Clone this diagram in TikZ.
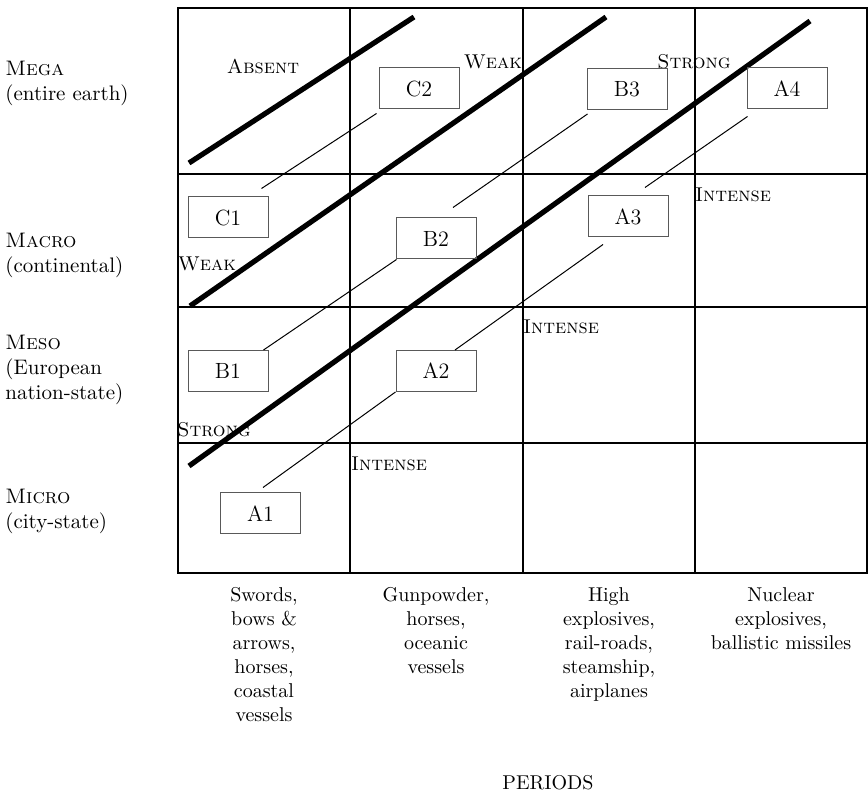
\documentclass[tikz,border=0pt]{standalone}
\begin{document}
\begin{tikzpicture}[x=0.5pt,y=-0.5pt,
  gridline/.style={line width=1pt},
  band/.style={line width=2.6pt},
  link/.style={line width=0.5pt},
  idbox/.style={draw=black!65, line width=0.5pt, minimum width=40pt,
    minimum height=20.5pt, inner sep=0pt, font=\fontsize{11}{13}\selectfont},
  zonelabel/.style={inner sep=0pt, font=\fontsize{10}{12}\selectfont\scshape},
  sidelabel/.style={anchor=north west, align=left, inner sep=0pt,
    font=\fontsize{10.5}{12.5}\selectfont},
  periodtext/.style={anchor=north, align=center, inner sep=0pt,
    font=\fontsize{10}{12}\selectfont}]
\useasboundingbox (0,0) rectangle (868,796);

% table frame and cell rules
\draw[gridline] (178,8) rectangle (867,573);
\foreach \x in {350,523,695} \draw[gridline] (\x,8) -- (\x,573);
\foreach \y in {174,307,443} \draw[gridline] (178,\y) -- (867,\y);

% zone labels
\node[zonelabel] (absent) at (263,66) {Absent};
\node[zonelabel] (weaktop) at (493,62) {Weak};
\node[zonelabel] (strongtop) at (694,62) {Strong};
\node[zonelabel] (weakleft) at (207,264) {Weak};
\node[zonelabel] (strongleft) at (214,430) {Strong};
\node[zonelabel] (intensea) at (733,195) {Intense};
\node[zonelabel] (intenseb) at (561,327) {Intense};
\node[zonelabel] (intensec) at (389,464) {Intense};

% thick boundary bands
\draw[band] (189,163) -- (414,17);
\draw[band] (190,306) -- (606,17);
\draw[band] (189,466) -- (810,21);

% system boxes
\node[idbox] (C2) at (419,88.5) {C2};
\node[idbox] (C1) at (228,217.5) {C1};
\node[idbox] (B3) at (627,89) {B3};
\node[idbox] (B2) at (436,238.5) {B2};
\node[idbox] (B1) at (228,371) {B1};
\node[idbox] (A4) at (787,88.5) {A4};
\node[idbox] (A3) at (628,216.5) {A3};
\node[idbox] (A2) at (436,371) {A2};
\node[idbox] (A1) at (260.5,513.5) {A1};

% succession links
\draw[link] ([shift={(-2,4)}]C2.south west) -- ([shift={(-7,-8)}]C1.north east);
\draw[link] ([shift={(1,4)}]B3.south west) -- ([shift={(17,-10)}]B2.north);
\draw[link] ([shift={(1,0)}]B2.south west) -- ([shift={(-5,0)}]B1.north east);
\draw[link] ([shift={(1,7)}]A4.south west) -- ([shift={(17,-8)}]A3.north);
\draw[link] ([shift={(-25,7)}]A3.south) -- ([shift={(19,0)}]A2.north);
\draw[link] (A2.south west) -- ([shift={(2.5,-5)}]A1.north);

% scale labels
\node[sidelabel] (mega) at (5,61) {\textsc{Mega}\\(entire earth)};
\node[sidelabel] (macro) at (5,233) {\textsc{Macro}\\(continental)};
\node[sidelabel] (meso) at (5,335) {\textsc{Meso}\\(European\\nation-state)};
\node[sidelabel] (micro) at (5,489) {\textsc{Micro}\\(city-state)};

% period technologies
\node[periodtext] (pa) at (264,587) {Swords,\\bows \&\\arrows,\\horses,\\coastal\\vessels};
\node[periodtext] (pb) at (436,587) {Gunpowder,\\horses,\\oceanic\\vessels};
\node[periodtext] (pc) at (609,587) {High\\explosives,\\rail-roads,\\steamship,\\airplanes};
\node[periodtext] (pd) at (781,587) {Nuclear\\explosives,\\ballistic missiles};
\node[inner sep=0pt, font=\fontsize{10}{12}\selectfont] (periods) at (548,783) {PERIODS};
\end{tikzpicture}
\end{document}
